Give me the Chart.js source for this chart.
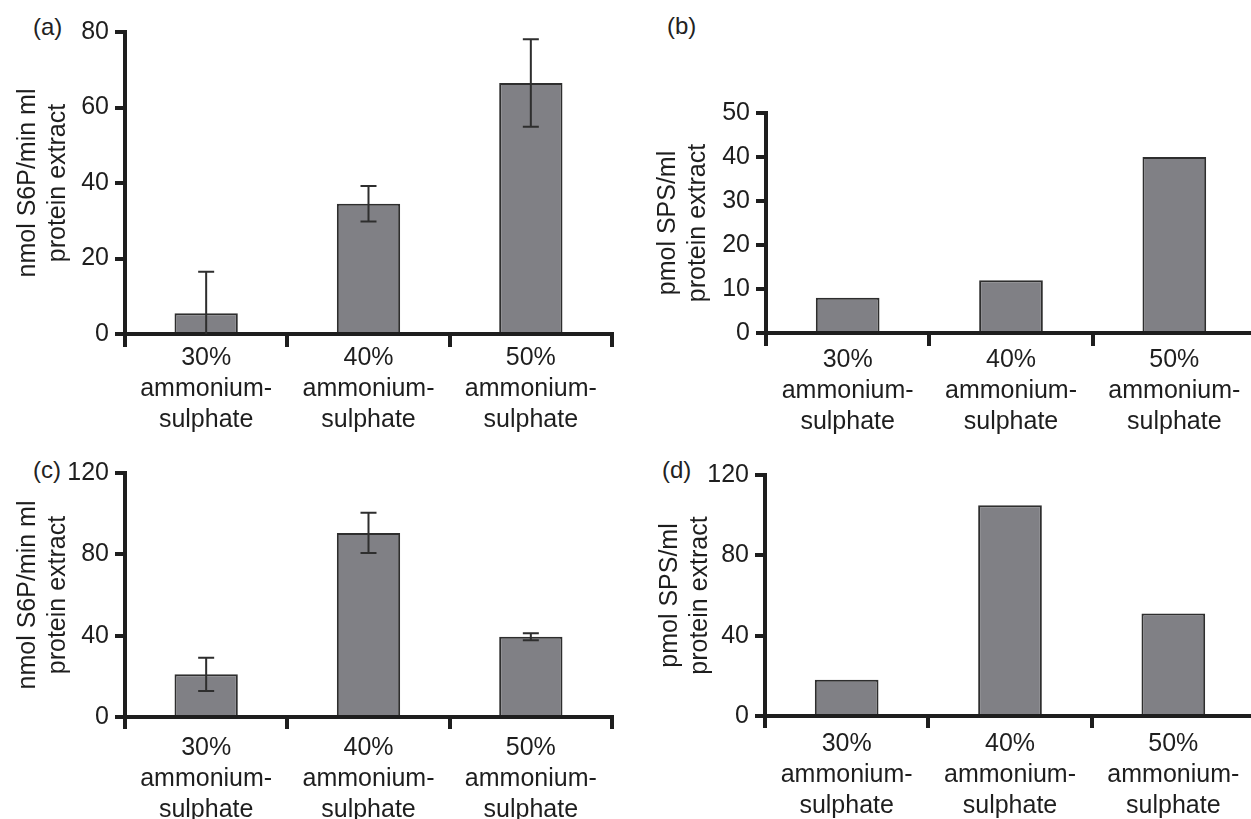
<!DOCTYPE html>
<html>
<head>
<meta charset="utf-8">
<script src="https://cdn.jsdelivr.net/npm/chart.js@4.4.1/dist/chart.umd.min.js"></script>
<style>
  html, body { margin: 0; padding: 0; background: #fff; }
  body { width: 1251px; height: 819px; overflow: hidden; position: relative; }
  canvas { position: absolute; }
  .plabel { position: absolute; font: 24px "Liberation Sans", Arial, sans-serif; color: #222; line-height: 24px; }
</style>
</head>
<body>
<div class="plabel" style="left:33px;top:15px">(a)</div>
<div class="plabel" style="left:667px;top:14px">(b)</div>
<div class="plabel" style="left:33px;top:458px">(c)</div>
<div class="plabel" style="left:662px;top:458px">(d)</div>
<canvas id="cA" width="618" height="449" style="left:0px;top:0px"></canvas>
<canvas id="cB" width="622" height="448" style="left:640px;top:0px"></canvas>
<canvas id="cC" width="618" height="392" style="left:0px;top:440px"></canvas>
<canvas id="cD" width="621" height="391" style="left:640px;top:440px"></canvas>
<script>
// ---- data ----
const categories = [
  ['30%', 'ammonium-', 'sulphate'],
  ['40%', 'ammonium-', 'sulphate'],
  ['50%', 'ammonium-', 'sulphate']
];
const valuesA = [5.5, 34.5, 66.5];
const errorsA = [11, 4.7, 11.6];
const valuesB = [8, 12, 40];
const valuesC = [21, 90.5, 39.5];
const errorsC = [8.2, 9.9, 1.7];
const valuesD = [18, 105, 51];
const titleS6P = ['nmol S6P/min ml', 'protein extract'];
const titleSPS = ['pmol SPS/ml', 'protein extract'];

const INK = '#1e1e1e';
const FONT = '"Liberation Sans", Arial, sans-serif';
Chart.defaults.font.family = FONT;
Chart.defaults.color = INK;

const errorBarPlugin = {
  id: 'errorBars',
  afterDatasetsDraw(chart, args, opts) {
    const errs = opts.errors;
    if (!errs) return;
    const ctx = chart.ctx;
    const meta = chart.getDatasetMeta(0);
    const ys = chart.scales.y;
    const ca = chart.chartArea;
    ctx.save();
    ctx.beginPath();
    ctx.rect(ca.left, ca.top - 10, ca.right - ca.left, ca.bottom - ca.top + 10);
    ctx.clip();
    ctx.strokeStyle = '#2e2e2e';
    ctx.lineWidth = 2;
    meta.data.forEach((bar, i) => {
      const v = chart.data.datasets[0].data[i];
      const e = errs[i];
      const x = bar.x;
      const yTop = ys.getPixelForValue(v + e);
      const lowV = v - e;
      const yLow = ys.getPixelForValue(Math.max(lowV, ys.min));
      ctx.beginPath();
      ctx.moveTo(x, yTop);
      ctx.lineTo(x, yLow);
      ctx.moveTo(x - 8, yTop);
      ctx.lineTo(x + 8, yTop);
      if (lowV >= ys.min) {
        ctx.moveTo(x - 8, yLow);
        ctx.lineTo(x + 8, yLow);
      }
      ctx.stroke();
    });
    ctx.restore();
  }
};

function makeChart(id, cfg) {
  return new Chart(document.getElementById(id), {
    type: 'bar',
    data: {
      labels: categories,
      datasets: [{
        data: cfg.values,
        backgroundColor: '#808085',
        borderColor: '#2e2e2e',
        borderWidth: 2,
        barPercentage: 0.39,
        categoryPercentage: 1.0
      }]
    },
    plugins: [errorBarPlugin],
    options: {
      responsive: false,
      animation: false,
      devicePixelRatio: 1,
      layout: { padding: { top: cfg.padTop, right: 6, bottom: 0, left: 0 } },
      plugins: {
        legend: { display: false },
        tooltip: { enabled: false },
        errorBars: { errors: cfg.errors || null }
      },
      scales: {
        x: {
          type: 'category',
          offset: true,
          z: 1,
          border: { display: true, color: INK, width: 4 },
          grid: {
            display: true, drawOnChartArea: false, drawTicks: true, offset: true,
            tickLength: cfg.xTick, tickWidth: 4, tickColor: INK, color: INK, lineWidth: 4
          },
          ticks: {
            color: INK, font: { size: 25, lineHeight: 1.24 }, padding: cfg.xPad,
            maxRotation: 0, minRotation: 0, autoSkip: false
          },
          afterFit(scale) { scale.height = 115; scale.paddingLeft = 0; scale.paddingRight = 0; }
        },
        y: {
          min: 0, max: cfg.max,
          z: 1,
          border: { display: true, color: INK, width: 4 },
          grid: {
            display: true, drawOnChartArea: false, drawTicks: true,
            tickLength: 10, tickWidth: 4, tickColor: INK, color: INK, lineWidth: 4
          },
          ticks: { stepSize: cfg.step, color: INK, font: { size: 25 }, padding: 6 },
          title: {
            display: true, text: cfg.title, color: INK,
            font: { size: 25, lineHeight: 1.2 },
            padding: { top: cfg.titlePad, bottom: 0 }
          },
          afterFit(scale) { scale.width = cfg.yw; scale.paddingTop = 0; scale.paddingBottom = 0; }
        }
      }
    }
  });
}

makeChart('cA', { values: valuesA, errors: errorsA, max: 80, step: 20, title: titleS6P,
  padTop: 32, yw: 125, titlePad: 13, xTick: 13, xPad: -4 });
makeChart('cB', { values: valuesB, max: 50, step: 10, title: titleSPS,
  padTop: 113, yw: 126, titlePad: 13, xTick: 13, xPad: -1 });
makeChart('cC', { values: valuesC, errors: errorsC, max: 120, step: 40, title: titleS6P,
  padTop: 33, yw: 125, titlePad: 13, xTick: 12, xPad: 4 });
makeChart('cD', { values: valuesD, max: 120, step: 40, title: titleSPS,
  padTop: 35, yw: 125, titlePad: 15, xTick: 12, xPad: 1 });
</script>
</body>
</html>
